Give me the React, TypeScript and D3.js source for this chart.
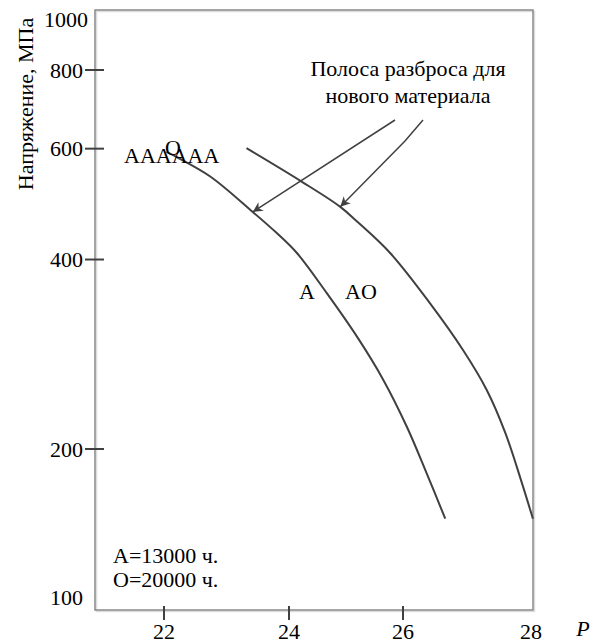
import React from 'react';
import * as d3 from 'd3';

// значения (P, МПа)
const lowerP = [22.04, 22.2, 22.74, 23.42, 23.8, 24.135, 24.66, 25.21, 25.65, 26.06, 26.37, 26.66];
const lowerS = [593, 582, 542, 476, 441, 410, 354, 300, 258, 217, 183, 155];
const upperP = [23.32, 24.22, 24.9, 25.19, 25.77, 26.42, 26.94, 27.31, 27.6, 27.84, 28.03];
const upperS = [601, 532, 485, 460, 410, 341, 287, 248, 212, 179, 155];

const xTicks = [22, 24, 26];
const xLabels = ['22', '24', '26', '28'];
const yTicks = [800, 600, 400, 200];

const font = '"Liberation Serif", "Times New Roman", serif';
const ink = '#404040';

const App = () => {
    const left = 95, right = 533, top = 10, bottom = 610;

    // ось P размечена неравномерно, поэтому кусочно-линейная шкала
    const x = d3.scaleLinear().domain([20.89, 22, 24, 26, 28]).range([left, 164, 289, 403, 531]);
    const y = d3.scaleLog().domain([1000, 111]).range([9, bottom]);

    const line = d3.line<[number, number]>()
        .x(d => x(d[0])).y(d => y(d[1]))
        .curve(d3.curveCatmullRom.alpha(0.5));
    const lower = lowerP.map((p, i) => [p, lowerS[i]] as [number, number]);
    const upper = upperP.map((p, i) => [p, upperS[i]] as [number, number]);

    // стрелки от надписи к кривым
    const arrows = [
        { path: [[395, 120]], to: [lowerP[3], lowerS[3]] },
        { path: [[423, 120], [405, 141]], to: [upperP[2], upperS[2]] },
    ];

    return (
        <svg width={596} height={641} style={{ position: 'absolute', left: 0, top: 0, background: '#fff' }}
            fontFamily={font} fontSize={22}>
            <defs>
                <marker id="arr" viewBox="0 0 10 10" refX="10" refY="5" markerWidth="12" markerHeight="10"
                    markerUnits="userSpaceOnUse" orient="auto">
                    <path d="M0,0L10,5L0,10L3,5Z" fill={ink} />
                </marker>
            </defs>

            {/* рамка */}
            <rect x={left + 1.5} y={top + 1.5} width={right - left} height={bottom - top} fill="none" stroke="#ddd" strokeWidth={1.5} />
            <rect x={left} y={top} width={right - left} height={bottom - top} fill="none" stroke="#888" strokeWidth={1.5} />

            {/* ось Y */}
            {yTicks.map(t => (
                <g key={t}>
                    <line x1={85} x2={104} y1={y(t)} y2={y(t)} stroke={ink} strokeWidth={2} />
                    <text x={83} y={y(t)} dy="0.35em" textAnchor="end">{t}</text>
                </g>
            ))}
            <text x={88} y={y(1000) + 18} textAnchor="end">1000</text>
            <text x={83} y={bottom - 5} textAnchor="end">100</text>
            <text transform={`translate(33,${104}) rotate(-90)`} textAnchor="middle">Напряжение, МПа</text>

            {/* ось X */}
            {xTicks.map(t => (
                <line key={t} x1={x(t)} x2={x(t)} y1={bottom - 4} y2={bottom + 10} stroke={ink} strokeWidth={2} />
            ))}
            {xLabels.map(l => (
                <text key={l} x={x(+l)} y={639} textAnchor="middle">{l}</text>
            ))}
            <text x={583} y={636} fontStyle="italic" textAnchor="middle">P</text>

            {/* кривые */}
            <path d={line(lower) || ''} fill="none" stroke={ink} strokeWidth={2} />
            <path d={line(upper) || ''} fill="none" stroke={ink} strokeWidth={2} />

            {arrows.map((a, i) => {
                const pts = [...a.path, [x(a.to[0]), y(a.to[1])]];
                return (
                    <path key={i} d={'M' + pts.map(p => p.join(',')).join('L')} fill="none"
                        stroke={ink} strokeWidth={1.5} markerEnd="url(#arr)" />
                );
            })}

            {/* подписи */}
            <text x={408} y={76} textAnchor="middle">Полоса разброса для</text>
            <text x={408} y={103} textAnchor="middle">нового материала</text>

            <text x={124} y={163}>AAAAAA</text>
            <text x={165} y={155}>O</text>
            <text x={299} y={299}>A</text>
            <text x={345} y={299}>AO</text>

            <text x={113} y={563}>A=13000 ч.</text>
            <text x={113} y={587}>O=20000 ч.</text>
        </svg>
    );
};

export default App;
